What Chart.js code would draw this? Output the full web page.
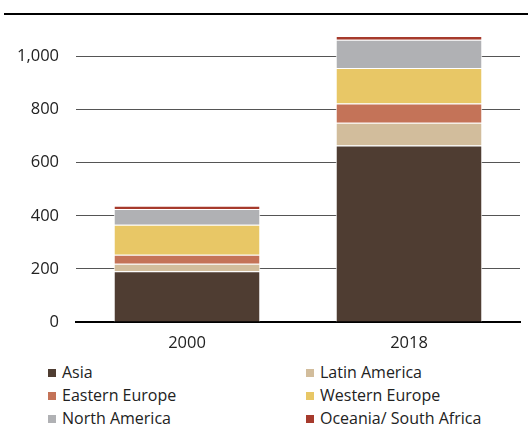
<!DOCTYPE html>
<html>
<head>
<meta charset="utf-8">
<script src="https://cdn.jsdelivr.net/npm/chart.js@4"></script>
<style>
  body { margin: 0; background: #fff; font-family: "Open Sans", sans-serif; }
  #wrap { position: relative; width: 528px; height: 428px; overflow: hidden; }
  #topRule { position: absolute; left: 4px; right: 0; top: 13px; height: 2px; background: #000; }
  #chartBox { position: absolute; left: 0; top: 0; width: 528px; height: 355px; }
  #legend { position: absolute; left: 0; top: 362px; width: 528px; }
  .item { position: absolute; font-size: 16px; color: #222; line-height: 20px; white-space: nowrap; }
  .item i { display: inline-block; width: 8px; height: 8px; margin-right: 6px; vertical-align: 1px; }
</style>
</head>
<body>
<div id="wrap">
  <div id="topRule"></div>
  <div id="chartBox"><canvas id="chart"></canvas></div>
  <div id="legend"></div>
</div>
<script>
const years = ["2000", "2018"];
const regions = ["Asia", "Latin America", "Eastern Europe", "Western Europe", "North America", "Oceania/ South Africa"];
const colors = ["#4f3d32", "#d2bd9c", "#c47358", "#e8c766", "#b0b1b4", "#a63a2c"];

const asia = [191, 665];
const latinAmerica = [28, 86];
const easternEurope = [34, 72];
const westernEurope = [113, 134];
const northAmerica = [60, 106];
const oceania = [12, 14];

const yTicks = [0, 200, 400, 600, 800, 1000];

const series = [asia, latinAmerica, easternEurope, westernEurope, northAmerica, oceania];

// legend in two columns, filled row by row
const legend = document.getElementById("legend");
regions.forEach((name, i) => {
  const div = document.createElement("div");
  div.className = "item";
  div.style.left = (i % 2 === 0 ? 48 : 306) + "px";
  div.style.top = (Math.floor(i / 2) * 23) + "px";
  div.innerHTML = `<i style="background:${colors[i]}"></i>${name}`;
  legend.appendChild(div);
});

new Chart(document.getElementById("chart"), {
  type: "bar",
  data: {
    labels: years,
    datasets: series.map((data, i) => ({
      label: regions[i],
      data: data,
      backgroundColor: colors[i],
      borderColor: "#ffffff",
      borderWidth: 1,
      borderSkipped: "bottom",
      categoryPercentage: 0.66,
      barPercentage: 1
    }))
  },
  options: {
    responsive: true,
    maintainAspectRatio: false,
    animation: false,
    layout: { padding: { top: 30, right: 8, left: 0, bottom: 0 } },
    plugins: { legend: { display: false }, tooltip: { enabled: false } },
    scales: {
      x: {
        stacked: true,
        grid: { display: false, drawTicks: false },
        border: { display: true, color: "#000", width: 2 },
        ticks: { color: "#222", padding: 11, font: { family: "Open Sans", size: 16.5 } },
        afterFit: s => { s.height = 33; }
      },
      y: {
        stacked: true,
        min: 0,
        max: 1100,
        afterBuildTicks: s => { s.ticks = yTicks.map(v => ({ value: v })); },
        grid: {
          drawTicks: false,
          color: c => c.tick && c.tick.value === 0 ? "#000" : "#555",
          lineWidth: 1
        },
        border: { display: false },
        ticks: {
          color: "#222",
          padding: 17,
          font: { family: "Open Sans", size: 16.5 },
          callback: v => v.toLocaleString("en-US")
        },
        afterFit: s => { s.width = 76; }
      }
    }
  }
});
</script>
</body>
</html>
